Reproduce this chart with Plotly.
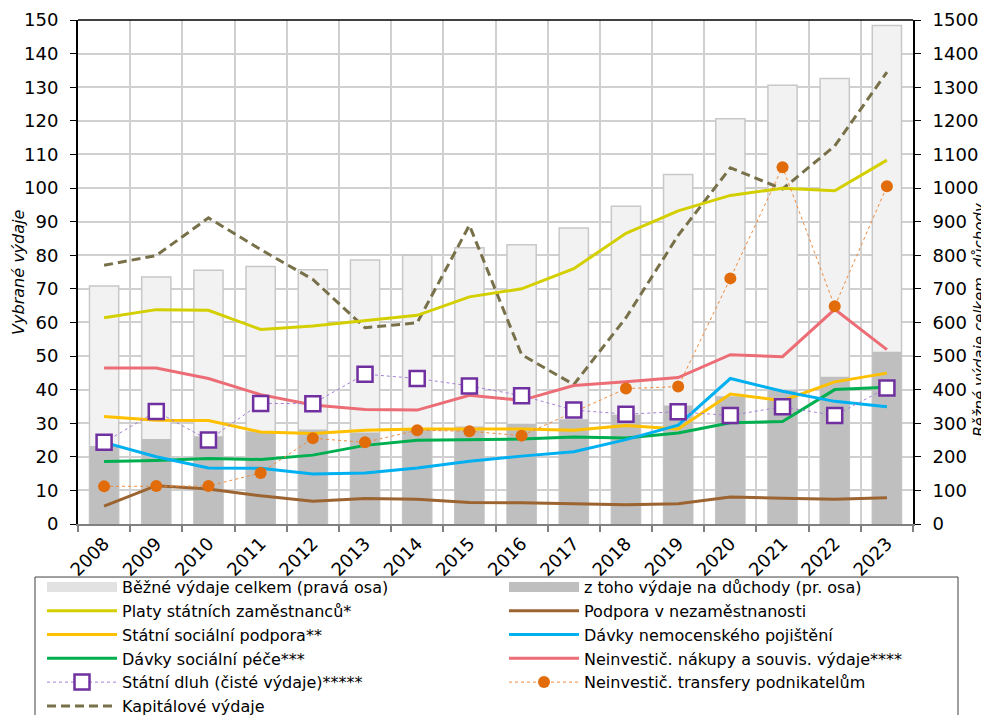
import plotly.graph_objects as go

years = [str(y) for y in range(2008, 2024)]

# right axis (bars)
bezne_celkem = [708, 735, 755, 766, 757, 786, 800, 822, 831, 881, 946, 1040, 1206, 1306, 1326, 1484]
duchody = [232, 253, 261, 276, 281, 272, 280, 290, 298, 312, 325, 353, 380, 400, 438, 513]

# left axis (lines)
platy = [61.4, 63.8, 63.6, 57.9, 58.9, 60.4, 62.1, 67.6, 70.0, 76.0, 86.5, 93.2, 97.8, 99.9, 99.2, 108.3]
podpora_nezam = [5.3, 11.4, 10.4, 8.4, 6.8, 7.6, 7.4, 6.4, 6.3, 6.1, 5.7, 6.0, 8.0, 7.7, 7.4, 7.8]
statni_soc = [32.0, 30.9, 30.8, 27.4, 26.9, 27.9, 28.3, 28.3, 28.3, 27.9, 29.3, 28.3, 38.7, 36.7, 42.3, 44.9]
nemocenske = [24.3, 20.0, 16.7, 16.6, 14.9, 15.2, 16.7, 18.7, 20.2, 21.5, 25.1, 29.4, 43.3, 39.5, 36.5, 34.9]
soc_pece = [18.6, 18.9, 19.5, 19.2, 20.5, 23.4, 24.9, 25.1, 25.3, 25.9, 25.6, 27.1, 30.1, 30.5, 40.0, 40.7]
nakupy = [46.4, 46.4, 43.3, 38.5, 35.4, 34.1, 33.9, 38.3, 36.8, 41.2, 42.3, 43.6, 50.4, 49.8, 63.9, 51.9]
dluh = [24.3, 33.5, 25.0, 35.9, 35.8, 44.6, 43.3, 41.1, 38.2, 33.9, 32.7, 33.4, 32.3, 34.9, 32.3, 40.5]
transfery = [11.2, 11.3, 11.3, 15.2, 25.5, 24.3, 27.9, 27.6, 26.3, 33.3, 40.3, 40.9, 73.1, 106.2, 64.8, 100.5]
kapitalove = [77.0, 79.9, 91.1, 81.7, 72.8, 58.4, 59.9, 88.9, 50.4, 41.5, 61.4, 85.9, 106.0, 99.7, 112.5, 134.5]

FONT = "DejaVu Sans"
TICK = dict(family=FONT, size=18, color="black")

fig = go.Figure()

# bars (legend shown via wide swatches below)
fig.add_trace(go.Bar(x=years, y=bezne_celkem, name="Běžné výdaje celkem (pravá osa)",
                     marker=dict(color="#f2f2f2", line=dict(color="#c8c8c8", width=1.5)),
                     width=0.56, yaxis="y", showlegend=False))
fig.add_trace(go.Bar(x=years, y=duchody, name="z toho výdaje na důchody (pr. osa)",
                     marker=dict(color="#bfbfbf", line=dict(width=0)),
                     width=0.56, yaxis="y", showlegend=False))

def line(y, name, color, legend, rank, dash="solid", width=3):
    fig.add_trace(go.Scatter(x=years, y=y, name=name, mode="lines", yaxis="y2",
                             line=dict(color=color, width=width, dash=dash),
                             legend=legend, legendrank=rank))

line(kapitalove, "Kapitálové výdaje", "#777048", "legend", 6, dash="9px,5px")
line(platy, "Platy státních zaměstnanců*", "#d4cf00", "legend", 2)
line(podpora_nezam, "Podpora v nezaměstnanosti", "#9c6430", "legend2", 2)
line(nakupy, "Neinvestič. nákupy a souvis. výdaje****", "#ec6d76", "legend2", 4)
line(statni_soc, "Státní sociální podpora**", "#ffc000", "legend", 3)
line(soc_pece, "Dávky sociální péče***", "#00b050", "legend", 4)
line(nemocenske, "Dávky nemocenského pojištění", "#00b0f0", "legend2", 3)

fig.add_trace(go.Scatter(x=years, y=transfery, name="Neinvestič. transfery podnikatelům",
                         mode="lines+markers", yaxis="y2", legend="legend2", legendrank=5,
                         line=dict(color="#f08a3c", width=1, dash="dot"),
                         marker=dict(symbol="circle", size=12, color="#e36c0a")))
fig.add_trace(go.Scatter(x=years, y=dluh, name="Státní dluh (čisté výdaje)*****",
                         mode="lines+markers", yaxis="y2", legend="legend", legendrank=5,
                         line=dict(color="#a77fd6", width=1, dash="dot"),
                         marker=dict(symbol="square", size=15, color="white",
                                     line=dict(color="#7030a0", width=2.5))))

# legend swatches for the two bar series
fig.add_trace(go.Scatter(x=[None], y=[None], mode="lines", yaxis="y2",
                         name="Běžné výdaje celkem (pravá osa)", legend="legend", legendrank=1,
                         line=dict(color="#e2e2e2", width=11), hoverinfo="skip"))
fig.add_trace(go.Scatter(x=[None], y=[None], mode="lines", yaxis="y2",
                         name="z toho výdaje na důchody (pr. osa)", legend="legend2", legendrank=1,
                         line=dict(color="#bfbfbf", width=11), hoverinfo="skip"))

LEG = dict(orientation="v", yanchor="top", xanchor="left", itemwidth=70,
           font=dict(family=FONT, size=16, color="black"),
           bgcolor="rgba(0,0,0,0)", borderwidth=0, traceorder="normal")

fig.update_layout(
    width=989, height=715,
    margin=dict(l=70, r=84, t=12, b=199, autoexpand=False),
    paper_bgcolor="white", plot_bgcolor="white",
    barmode="overlay",
    font=dict(family=FONT, size=18, color="black"),
    xaxis=dict(type="category", range=[-0.5, 15.5], tickson="boundaries", ticks="outside",
               ticklen=6, tickcolor="#808080", tickwidth=1.5, showline=True,
               linecolor="#808080", linewidth=2, showgrid=True, gridcolor="#d0d0d0",
               gridwidth=1.5, tickangle=-45, tickfont=TICK),
    yaxis=dict(side="right", range=[0, 1500], dtick=100, showgrid=True,
               gridcolor="#d0d0d0", gridwidth=1.5, showline=True, linecolor="black",
               linewidth=2, ticks="outside", ticklen=6, tickcolor="black",
               tickfont=TICK, zeroline=False, ticklabelstandoff=8),
    yaxis2=dict(overlaying="y", side="left", range=[0, 150], dtick=10, showgrid=False,
                showline=True, linecolor="black", linewidth=2, ticks="outside",
                ticklen=6, tickcolor="black", tickfont=TICK, zeroline=False,
                ticklabelstandoff=8),
    legend=dict(LEG, x=-0.0431, y=-0.0913),
    legend2=dict(LEG, x=0.5102, y=-0.0913),
    shapes=[
        dict(type="line", xref="paper", yref="paper", x0=0, x1=1, y0=1, y1=1,
             line=dict(color="black", width=1.5)),
        dict(type="rect", xref="paper", yref="paper", x0=-0.0515, x1=1.0539,
             y0=-0.1052, y1=-0.6, line=dict(color="#404040", width=1),
             fillcolor="white", layer="above"),
    ],
    annotations=[
        dict(text="Vybrané výdaje", xref="paper", yref="paper", x=-0.072, y=0.5,
             xanchor="center", yanchor="middle", textangle=-90, showarrow=False,
             font=dict(family=FONT, size=16, color="black", style="italic")),
        dict(text="Běžné výdaje celkem, důchody", xref="paper", yref="paper", x=1.0802,
             y=0.407, xanchor="center", yanchor="middle", textangle=-90, showarrow=False,
             font=dict(family=FONT, size=15, color="black", style="italic")),
    ],
)

fig.write_html("out.html")
